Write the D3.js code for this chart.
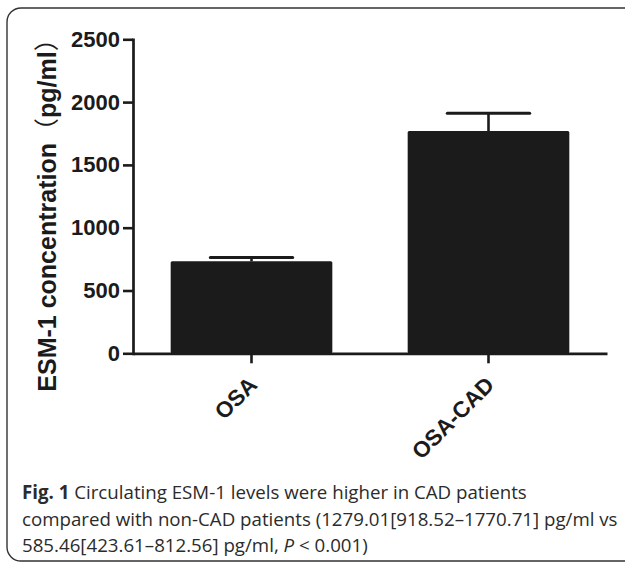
<!DOCTYPE html>
<html><head><meta charset="utf-8">
<script src="https://cdn.jsdelivr.net/npm/d3@7"></script>
<style>
html,body{margin:0;padding:0;background:#fff;}
svg{display:block;}
</style></head>
<body>
<script>
const categories = ["OSA", "OSA-CAD"];
const means = [732, 1770];
const upperErr = [762, 1911];
const yTicks = [0, 500, 1000, 1500, 2000, 2500];
const yTitleParts = ["ESM-1 concentration", "\uFF08", "pg/ml", "\uFF09"];
const captionBold = "Fig. 1";
const captionLines = [
  " Circulating ESM-1 levels were higher in CAD patients",
  "compared with non-CAD patients (1279.01[918.52\u20131770.71] pg/ml vs",
  "585.46[423.61\u2013812.56] pg/ml, "
];

const W = 625, H = 563;
const svg = d3.select("body").append("svg").attr("width", W).attr("height", H);

// frame
svg.append("rect").attr("x", 7).attr("y", 8).attr("width", 700).attr("height", 553)
  .attr("rx", 14).attr("fill", "none").attr("stroke", "#333").attr("stroke-width", 1.4);

const ink = "#1b1b1b";
const x = d3.scaleBand().domain(categories).range([133, 607]).paddingInner(0.318).paddingOuter(0.159);
const y = d3.scaleLinear().domain([0, 2500]).range([353.3, 39.3]);

const g = svg.append("g");

// bars
g.selectAll("rect.bar").data(categories).join("rect").attr("class", "bar")
  .attr("x", d => x(d)).attr("width", x.bandwidth())
  .attr("y", (d, i) => y(means[i])).attr("height", (d, i) => y(0) - y(means[i]))
  .attr("rx", 1.5).attr("fill", ink);

// error bars
const capW = x.bandwidth() * 0.51;
categories.forEach((c, i) => {
  const cx = x(c) + x.bandwidth() / 2;
  g.append("line").attr("x1", cx).attr("x2", cx).attr("y1", y(means[i])).attr("y2", y(upperErr[i]))
    .attr("stroke", ink).attr("stroke-width", 2.6);
  g.append("line").attr("x1", cx - capW / 2).attr("x2", cx + capW / 2)
    .attr("y1", y(upperErr[i])).attr("y2", y(upperErr[i]))
    .attr("stroke", ink).attr("stroke-width", 3).attr("stroke-linecap", "round");
});

// y axis
const yAxis = g.append("g").attr("transform", "translate(133,0)")
  .call(d3.axisLeft(y).tickValues(yTicks).tickSize(10).tickSizeOuter(0).tickPadding(3).tickFormat(d3.format("d")));
yAxis.select(".domain").attr("stroke", ink).attr("stroke-width", 2.7).attr("stroke-linecap", "square");
yAxis.selectAll(".tick line").attr("stroke", ink).attr("stroke-width", 2.6);
yAxis.selectAll(".tick text").attr("fill", ink)
  .style("font-family", "'Liberation Sans', Arial, sans-serif").style("font-weight", "bold").style("font-size", "22px");

// x axis
const xAxis = g.append("g").attr("transform", "translate(0,353.3)")
  .call(d3.axisBottom(x).tickSize(10).tickSizeOuter(0));
xAxis.select(".domain").attr("stroke", ink).attr("stroke-width", 2.7);
xAxis.selectAll(".tick line").attr("stroke", ink).attr("stroke-width", 2.6);
xAxis.selectAll(".tick text")
  .attr("fill", ink).attr("text-anchor", "end").attr("dy", null).attr("y", null)
  .attr("transform", "translate(7,33) rotate(-45)")
  .style("font-family", "'Liberation Sans', Arial, sans-serif").style("font-weight", "bold").style("font-size", "22.5px");

// y title
const yt = svg.append("text").attr("transform", "translate(56,209) rotate(-90)")
  .attr("text-anchor", "middle").attr("fill", ink)
  .style("font-family", "'Liberation Sans', Arial, sans-serif")
  .style("font-weight", "bold").style("font-size", "25px");
yTitleParts.forEach((p, i) => {
  const ts = yt.append("tspan").text(p);
  if (i === 1 || i === 3) ts.style("font-family", "'Noto Sans CJK SC', sans-serif").style("font-weight", "normal");
});

// caption
const capG = svg.append("g").style("font-family", "'Open Sans', 'Noto Sans', sans-serif")
  .style("font-size", "18.7px").attr("fill", "#2b2b2b");
const t1 = capG.append("text").attr("x", 22).attr("y", 499);
t1.append("tspan").style("font-weight", "bold").text(captionBold);
t1.append("tspan").text(captionLines[0]);
capG.append("text").attr("x", 22).attr("y", 526).text(captionLines[1]);
const t3 = capG.append("text").attr("x", 22).attr("y", 552);
t3.append("tspan").text(captionLines[2]);
t3.append("tspan").style("font-style", "italic").text("P");
t3.append("tspan").text(" < 0.001)");
</script>
</body></html>
